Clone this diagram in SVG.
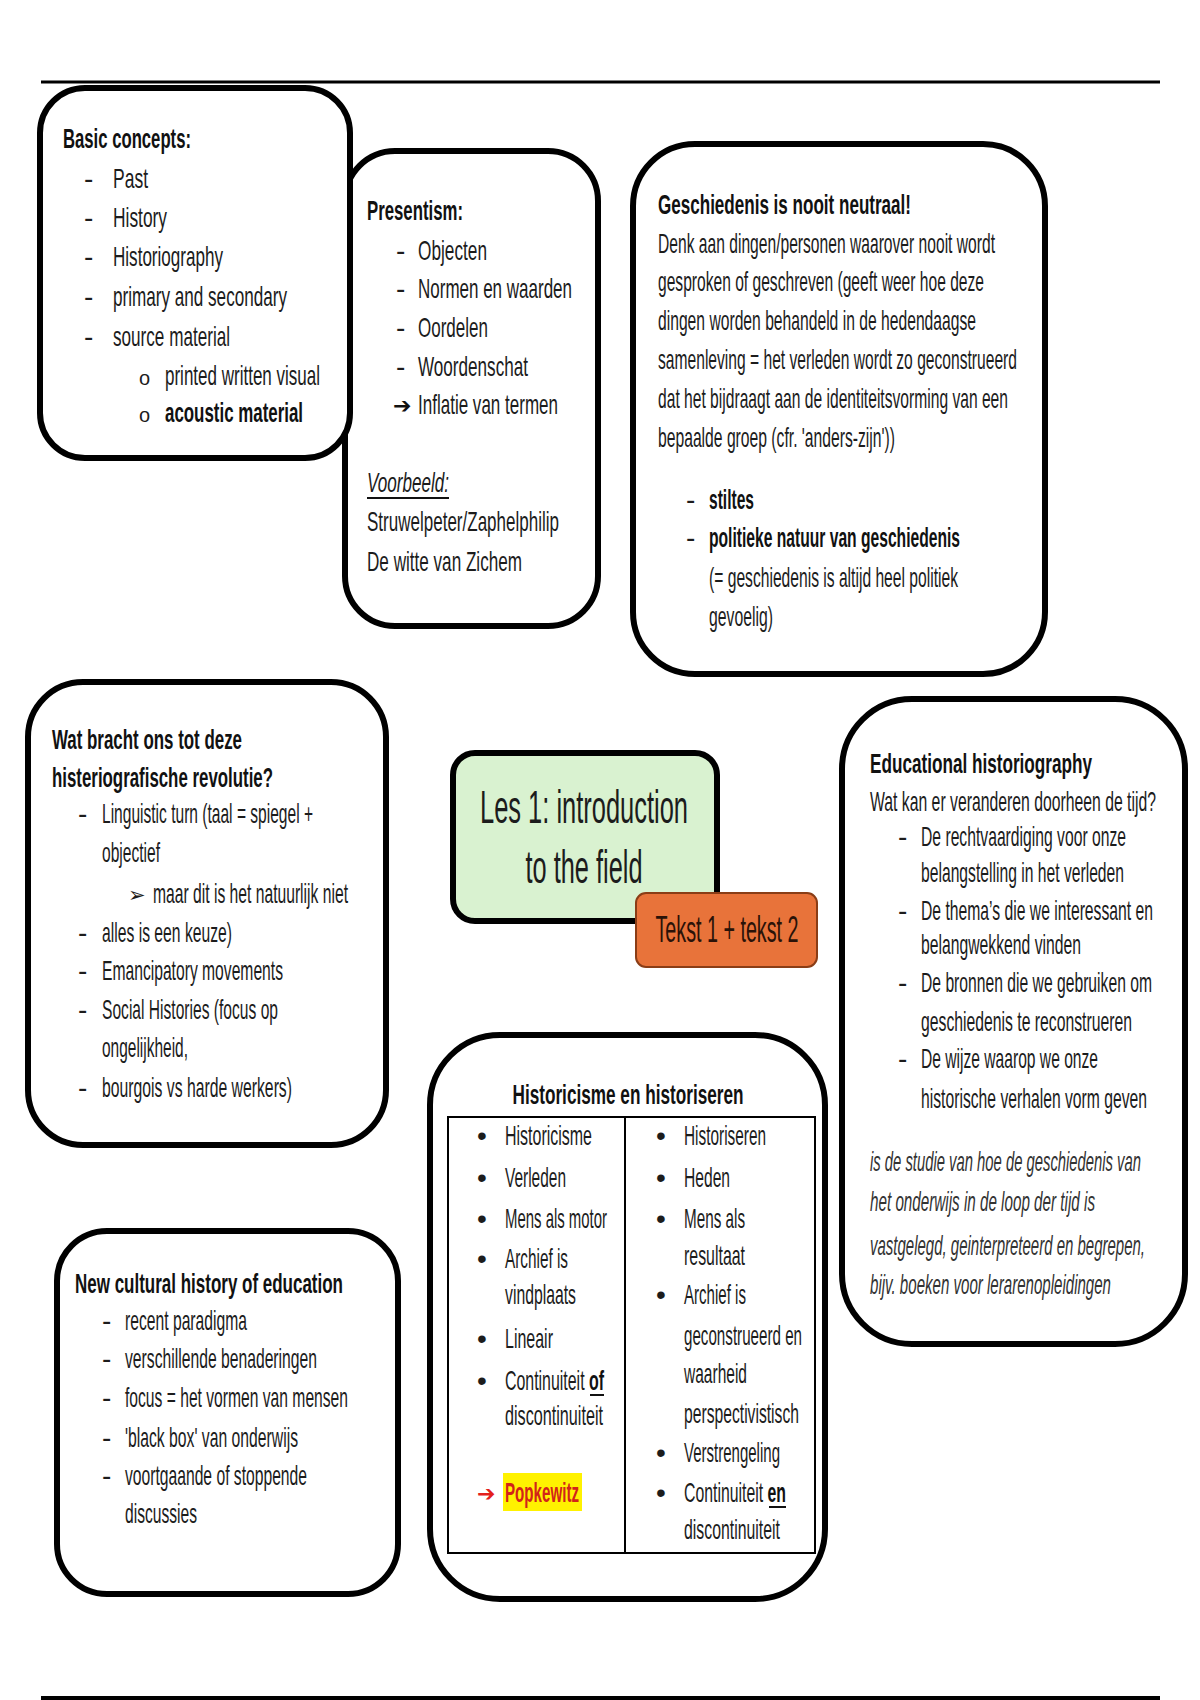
<svg xmlns="http://www.w3.org/2000/svg" width="1200" height="1700" viewBox="0 0 1200 1700">
<style>
.box{fill:none;stroke:#000;stroke-width:6}
.t{font-family:"Liberation Sans",Arial,sans-serif;font-size:28px;fill:#1c1c1c}
.b{font-weight:bold;fill:#111}
.i{font-style:italic}
.ul{stroke:#111;stroke-width:2}
.cell{fill:none;stroke:#000;stroke-width:2}
.sym{font-family:"DejaVu Sans",sans-serif}
</style>
<rect width="1200" height="1700" fill="#fff"/>
<g id="rules">
<line x1="41" y1="82" x2="1160" y2="82" stroke="#000" stroke-width="3"/>
<line x1="41" y1="1698" x2="1160" y2="1698" stroke="#000" stroke-width="4"/>
</g>

<g id="presentism">
<rect class="box" x="345" y="151" width="253" height="475" rx="50"/>
<text class="t b" x="367" y="220" textLength="96" lengthAdjust="spacingAndGlyphs">Presentism:</text>
<text class="t" x="396" y="260">-</text><text class="t" x="418" y="260" textLength="69" lengthAdjust="spacingAndGlyphs">Objecten</text>
<text class="t" x="396" y="298">-</text><text class="t" x="418" y="298" textLength="154" lengthAdjust="spacingAndGlyphs">Normen en waarden</text>
<text class="t" x="396" y="337">-</text><text class="t" x="418" y="337" textLength="70" lengthAdjust="spacingAndGlyphs">Oordelen</text>
<text class="t" x="396" y="376">-</text><text class="t" x="418" y="376" textLength="110" lengthAdjust="spacingAndGlyphs">Woordenschat</text>
<text class="t sym b" x="393" y="413" style="font-size:22px">➔</text><text class="t" x="418" y="414" textLength="140" lengthAdjust="spacingAndGlyphs">Inflatie van termen</text>
<text class="t i" x="367" y="492" textLength="82" lengthAdjust="spacingAndGlyphs">Voorbeeld:</text>
<line class="ul" x1="367" y1="498" x2="449" y2="498"/>
<text class="t" x="367" y="531" textLength="192" lengthAdjust="spacingAndGlyphs">Struwelpeter/Zaphelphilip</text>
<text class="t" x="367" y="571" textLength="155" lengthAdjust="spacingAndGlyphs">De witte van Zichem</text>
</g>

<g id="basic-concepts">
<rect x="40" y="88" width="310" height="370" rx="45" fill="#fff" stroke="#000" stroke-width="6"/>
<text class="t b" x="63" y="148" textLength="128" lengthAdjust="spacingAndGlyphs">Basic concepts:</text>
<text class="t" x="84" y="188">-</text><text class="t" x="113" y="188" textLength="35" lengthAdjust="spacingAndGlyphs">Past</text>
<text class="t" x="84" y="227">-</text><text class="t" x="113" y="227" textLength="54" lengthAdjust="spacingAndGlyphs">History</text>
<text class="t" x="84" y="266">-</text><text class="t" x="113" y="266" textLength="110" lengthAdjust="spacingAndGlyphs">Historiography</text>
<text class="t" x="84" y="306">-</text><text class="t" x="113" y="306" textLength="174" lengthAdjust="spacingAndGlyphs">primary and secondary</text>
<text class="t" x="84" y="346">-</text><text class="t" x="113" y="346" textLength="117" lengthAdjust="spacingAndGlyphs">source material</text>
<text class="t" x="139" y="385" style="font-size:20px">o</text><text class="t" x="165" y="385" textLength="155" lengthAdjust="spacingAndGlyphs">printed written visual</text>
<text class="t" x="139" y="422" style="font-size:20px">o</text><text class="t b" x="165" y="422" textLength="138" lengthAdjust="spacingAndGlyphs">acoustic material</text>
</g>

<g id="geschiedenis">
<rect class="box" x="633" y="144" width="412" height="530" rx="62"/>
<text class="t b" x="658" y="214" textLength="253" lengthAdjust="spacingAndGlyphs">Geschiedenis is nooit neutraal!</text>
<text class="t" x="658" y="253" textLength="337" lengthAdjust="spacingAndGlyphs">Denk aan dingen/personen waarover nooit wordt</text>
<text class="t" x="658" y="291" textLength="326" lengthAdjust="spacingAndGlyphs">gesproken of geschreven (geeft weer hoe deze</text>
<text class="t" x="658" y="330" textLength="318" lengthAdjust="spacingAndGlyphs">dingen worden behandeld in de hedendaagse</text>
<text class="t" x="658" y="369" textLength="359" lengthAdjust="spacingAndGlyphs">samenleving = het verleden wordt zo geconstrueerd</text>
<text class="t" x="658" y="408" textLength="350" lengthAdjust="spacingAndGlyphs">dat het bijdraagt aan de identiteitsvorming van een</text>
<text class="t" x="658" y="447" textLength="237" lengthAdjust="spacingAndGlyphs">bepaalde groep (cfr. 'anders-zijn'))</text>
<text class="t" x="686" y="509">-</text><text class="t b" x="709" y="509" textLength="45" lengthAdjust="spacingAndGlyphs">stiltes</text>
<text class="t" x="686" y="547">-</text><text class="t b" x="709" y="547" textLength="251" lengthAdjust="spacingAndGlyphs">politieke natuur van geschiedenis</text>
<text class="t" x="709" y="587" textLength="249" lengthAdjust="spacingAndGlyphs">(= geschiedenis is altijd heel politiek</text>
<text class="t" x="709" y="626" textLength="64" lengthAdjust="spacingAndGlyphs">gevoelig)</text>
</g>

<g id="revolutie">
<rect class="box" x="28" y="682" width="358" height="463" rx="55"/>
<text class="t b" x="52" y="749" textLength="190" lengthAdjust="spacingAndGlyphs">Wat bracht ons tot deze</text>
<text class="t b" x="52" y="787" textLength="221" lengthAdjust="spacingAndGlyphs">histeriografische revolutie?</text>
<text class="t" x="78" y="823">-</text><text class="t" x="102" y="823" textLength="211" lengthAdjust="spacingAndGlyphs">Linguistic turn (taal = spiegel +</text>
<text class="t" x="102" y="862" textLength="58" lengthAdjust="spacingAndGlyphs">objectief</text>
<text class="t sym" x="128" y="902" style="font-size:21px">➢</text><text class="t" x="153" y="903" textLength="195" lengthAdjust="spacingAndGlyphs">maar dit is het natuurlijk niet</text>
<text class="t" x="78" y="942">-</text><text class="t" x="102" y="942" textLength="130" lengthAdjust="spacingAndGlyphs">alles is een keuze)</text>
<text class="t" x="78" y="980">-</text><text class="t" x="102" y="980" textLength="181" lengthAdjust="spacingAndGlyphs">Emancipatory movements</text>
<text class="t" x="78" y="1019">-</text><text class="t" x="102" y="1019" textLength="176" lengthAdjust="spacingAndGlyphs">Social Histories (focus op</text>
<text class="t" x="102" y="1057" textLength="86" lengthAdjust="spacingAndGlyphs">ongelijkheid,</text>
<text class="t" x="78" y="1097">-</text><text class="t" x="102" y="1097" textLength="190" lengthAdjust="spacingAndGlyphs">bourgois vs harde werkers)</text>
</g>

<g id="les1">
<rect x="453" y="753" width="264" height="168" rx="22" fill="#d9f2d0" stroke="#000" stroke-width="6"/>
<text class="t" x="584" y="823" text-anchor="middle" style="font-size:46px" textLength="208" lengthAdjust="spacingAndGlyphs">Les 1: introduction</text>
<text class="t" x="584" y="883" text-anchor="middle" style="font-size:46px" textLength="117" lengthAdjust="spacingAndGlyphs">to the field</text>
</g>

<g id="tekst">
<rect x="636" y="893" width="181" height="74" rx="10" fill="#e8733a" stroke="#8a3d16" stroke-width="2"/>
<text class="t" x="727" y="942" text-anchor="middle" style="font-size:36px;fill:#2a1208" textLength="143" lengthAdjust="spacingAndGlyphs">Tekst 1 + tekst 2</text>
</g>

<g id="educational">
<rect class="box" x="842" y="699" width="343" height="645" rx="70"/>
<text class="t b" x="870" y="773" textLength="222" lengthAdjust="spacingAndGlyphs">Educational historiography</text>
<text class="t" x="870" y="811" textLength="286" lengthAdjust="spacingAndGlyphs">Wat kan er veranderen doorheen de tijd?</text>
<text class="t" x="898" y="846">-</text><text class="t" x="921" y="846" textLength="205" lengthAdjust="spacingAndGlyphs">De rechtvaardiging voor onze</text>
<text class="t" x="921" y="882" textLength="203" lengthAdjust="spacingAndGlyphs">belangstelling in het verleden</text>
<text class="t" x="898" y="920">-</text><text class="t" x="921" y="920" textLength="232" lengthAdjust="spacingAndGlyphs">De thema’s die we interessant en</text>
<text class="t" x="921" y="954" textLength="160" lengthAdjust="spacingAndGlyphs">belangwekkend vinden</text>
<text class="t" x="898" y="992">-</text><text class="t" x="921" y="992" textLength="231" lengthAdjust="spacingAndGlyphs">De bronnen die we gebruiken om</text>
<text class="t" x="921" y="1031" textLength="211" lengthAdjust="spacingAndGlyphs">geschiedenis te reconstrueren</text>
<text class="t" x="898" y="1068">-</text><text class="t" x="921" y="1068" textLength="177" lengthAdjust="spacingAndGlyphs">De wijze waarop we onze</text>
<text class="t" x="921" y="1108" textLength="226" lengthAdjust="spacingAndGlyphs">historische verhalen vorm geven</text>
<text class="t i" x="870" y="1171" style="fill:#333" textLength="271" lengthAdjust="spacingAndGlyphs">is de studie van hoe de geschiedenis van</text>
<text class="t i" x="870" y="1211" style="fill:#333" textLength="225" lengthAdjust="spacingAndGlyphs">het onderwijs in de loop der tijd is</text>
<text class="t i" x="870" y="1255" style="fill:#333" textLength="275" lengthAdjust="spacingAndGlyphs">vastgelegd, geinterpreteerd en begrepen,</text>
<text class="t i" x="870" y="1294" style="fill:#333" textLength="241" lengthAdjust="spacingAndGlyphs">bijv. boeken voor lerarenopleidingen</text>
</g>

<g id="historicisme">
<rect class="box" x="430" y="1035" width="395" height="564" rx="70"/>
<text class="t b" x="628" y="1104" text-anchor="middle" textLength="231" lengthAdjust="spacingAndGlyphs">Historicisme en historiseren</text>
<rect class="cell" x="448" y="1117" width="367" height="436"/>
<line class="cell" x1="625" y1="1117" x2="625" y2="1553"/>
<text class="t" x="477" y="1145">•</text><text class="t" x="505" y="1145" textLength="87" lengthAdjust="spacingAndGlyphs">Historicisme</text>
<text class="t" x="477" y="1187">•</text><text class="t" x="505" y="1187" textLength="61" lengthAdjust="spacingAndGlyphs">Verleden</text>
<text class="t" x="477" y="1228">•</text><text class="t" x="505" y="1228" textLength="102" lengthAdjust="spacingAndGlyphs">Mens als motor</text>
<text class="t" x="477" y="1268">•</text><text class="t" x="505" y="1268" textLength="63" lengthAdjust="spacingAndGlyphs">Archief is</text>
<text class="t" x="505" y="1304" textLength="71" lengthAdjust="spacingAndGlyphs">vindplaats</text>
<text class="t" x="477" y="1348">•</text><text class="t" x="505" y="1348" textLength="48" lengthAdjust="spacingAndGlyphs">Lineair</text>
<text class="t" x="477" y="1390">•</text><text class="t" x="505" y="1390" textLength="99" lengthAdjust="spacingAndGlyphs">Continuiteit <tspan class="b">of</tspan></text>
<line class="ul" x1="590" y1="1395" x2="604" y2="1395"/>
<text class="t" x="505" y="1425" textLength="98" lengthAdjust="spacingAndGlyphs">discontinuiteit</text>
<rect x="503" y="1473" width="79" height="38" fill="#fff200"/>
<text class="t sym b" x="477" y="1501" style="font-size:22px;fill:#e3201b">➔</text>
<text class="t b" x="505" y="1502" style="fill:#d2231a" textLength="74" lengthAdjust="spacingAndGlyphs">Popkewitz</text>
<text class="t" x="656" y="1145">•</text><text class="t" x="684" y="1145" textLength="82" lengthAdjust="spacingAndGlyphs">Historiseren</text>
<text class="t" x="656" y="1187">•</text><text class="t" x="684" y="1187" textLength="46" lengthAdjust="spacingAndGlyphs">Heden</text>
<text class="t" x="656" y="1228">•</text><text class="t" x="684" y="1228" textLength="61" lengthAdjust="spacingAndGlyphs">Mens als</text>
<text class="t" x="684" y="1265" textLength="61" lengthAdjust="spacingAndGlyphs">resultaat</text>
<text class="t" x="656" y="1304">•</text><text class="t" x="684" y="1304" textLength="62" lengthAdjust="spacingAndGlyphs">Archief is</text>
<text class="t" x="684" y="1345" textLength="118" lengthAdjust="spacingAndGlyphs">geconstrueerd en</text>
<text class="t" x="684" y="1383" textLength="63" lengthAdjust="spacingAndGlyphs">waarheid</text>
<text class="t" x="684" y="1423" textLength="115" lengthAdjust="spacingAndGlyphs">perspectivistisch</text>
<text class="t" x="656" y="1462">•</text><text class="t" x="684" y="1462" textLength="96" lengthAdjust="spacingAndGlyphs">Verstrengeling</text>
<text class="t" x="656" y="1502">•</text><text class="t" x="684" y="1502" textLength="102" lengthAdjust="spacingAndGlyphs">Continuiteit <tspan class="b">en</tspan></text>
<line class="ul" x1="769" y1="1507" x2="786" y2="1507"/>
<text class="t" x="684" y="1539" textLength="96" lengthAdjust="spacingAndGlyphs">discontinuiteit</text>
</g>

<g id="new-cultural">
<rect class="box" x="57" y="1231" width="341" height="363" rx="50"/>
<text class="t b" x="75" y="1293" textLength="268" lengthAdjust="spacingAndGlyphs">New cultural history of education</text>
<text class="t" x="102" y="1330">-</text><text class="t" x="125" y="1330" textLength="122" lengthAdjust="spacingAndGlyphs">recent paradigma</text>
<text class="t" x="102" y="1368">-</text><text class="t" x="125" y="1368" textLength="192" lengthAdjust="spacingAndGlyphs">verschillende benaderingen</text>
<text class="t" x="102" y="1407">-</text><text class="t" x="125" y="1407" textLength="223" lengthAdjust="spacingAndGlyphs">focus = het vormen van mensen</text>
<text class="t" x="102" y="1447">-</text><text class="t" x="125" y="1447" textLength="173" lengthAdjust="spacingAndGlyphs">'black box' van onderwijs</text>
<text class="t" x="102" y="1485">-</text><text class="t" x="125" y="1485" textLength="182" lengthAdjust="spacingAndGlyphs">voortgaande of stoppende</text>
<text class="t" x="125" y="1523" textLength="72" lengthAdjust="spacingAndGlyphs">discussies</text>
</g>
</svg>
